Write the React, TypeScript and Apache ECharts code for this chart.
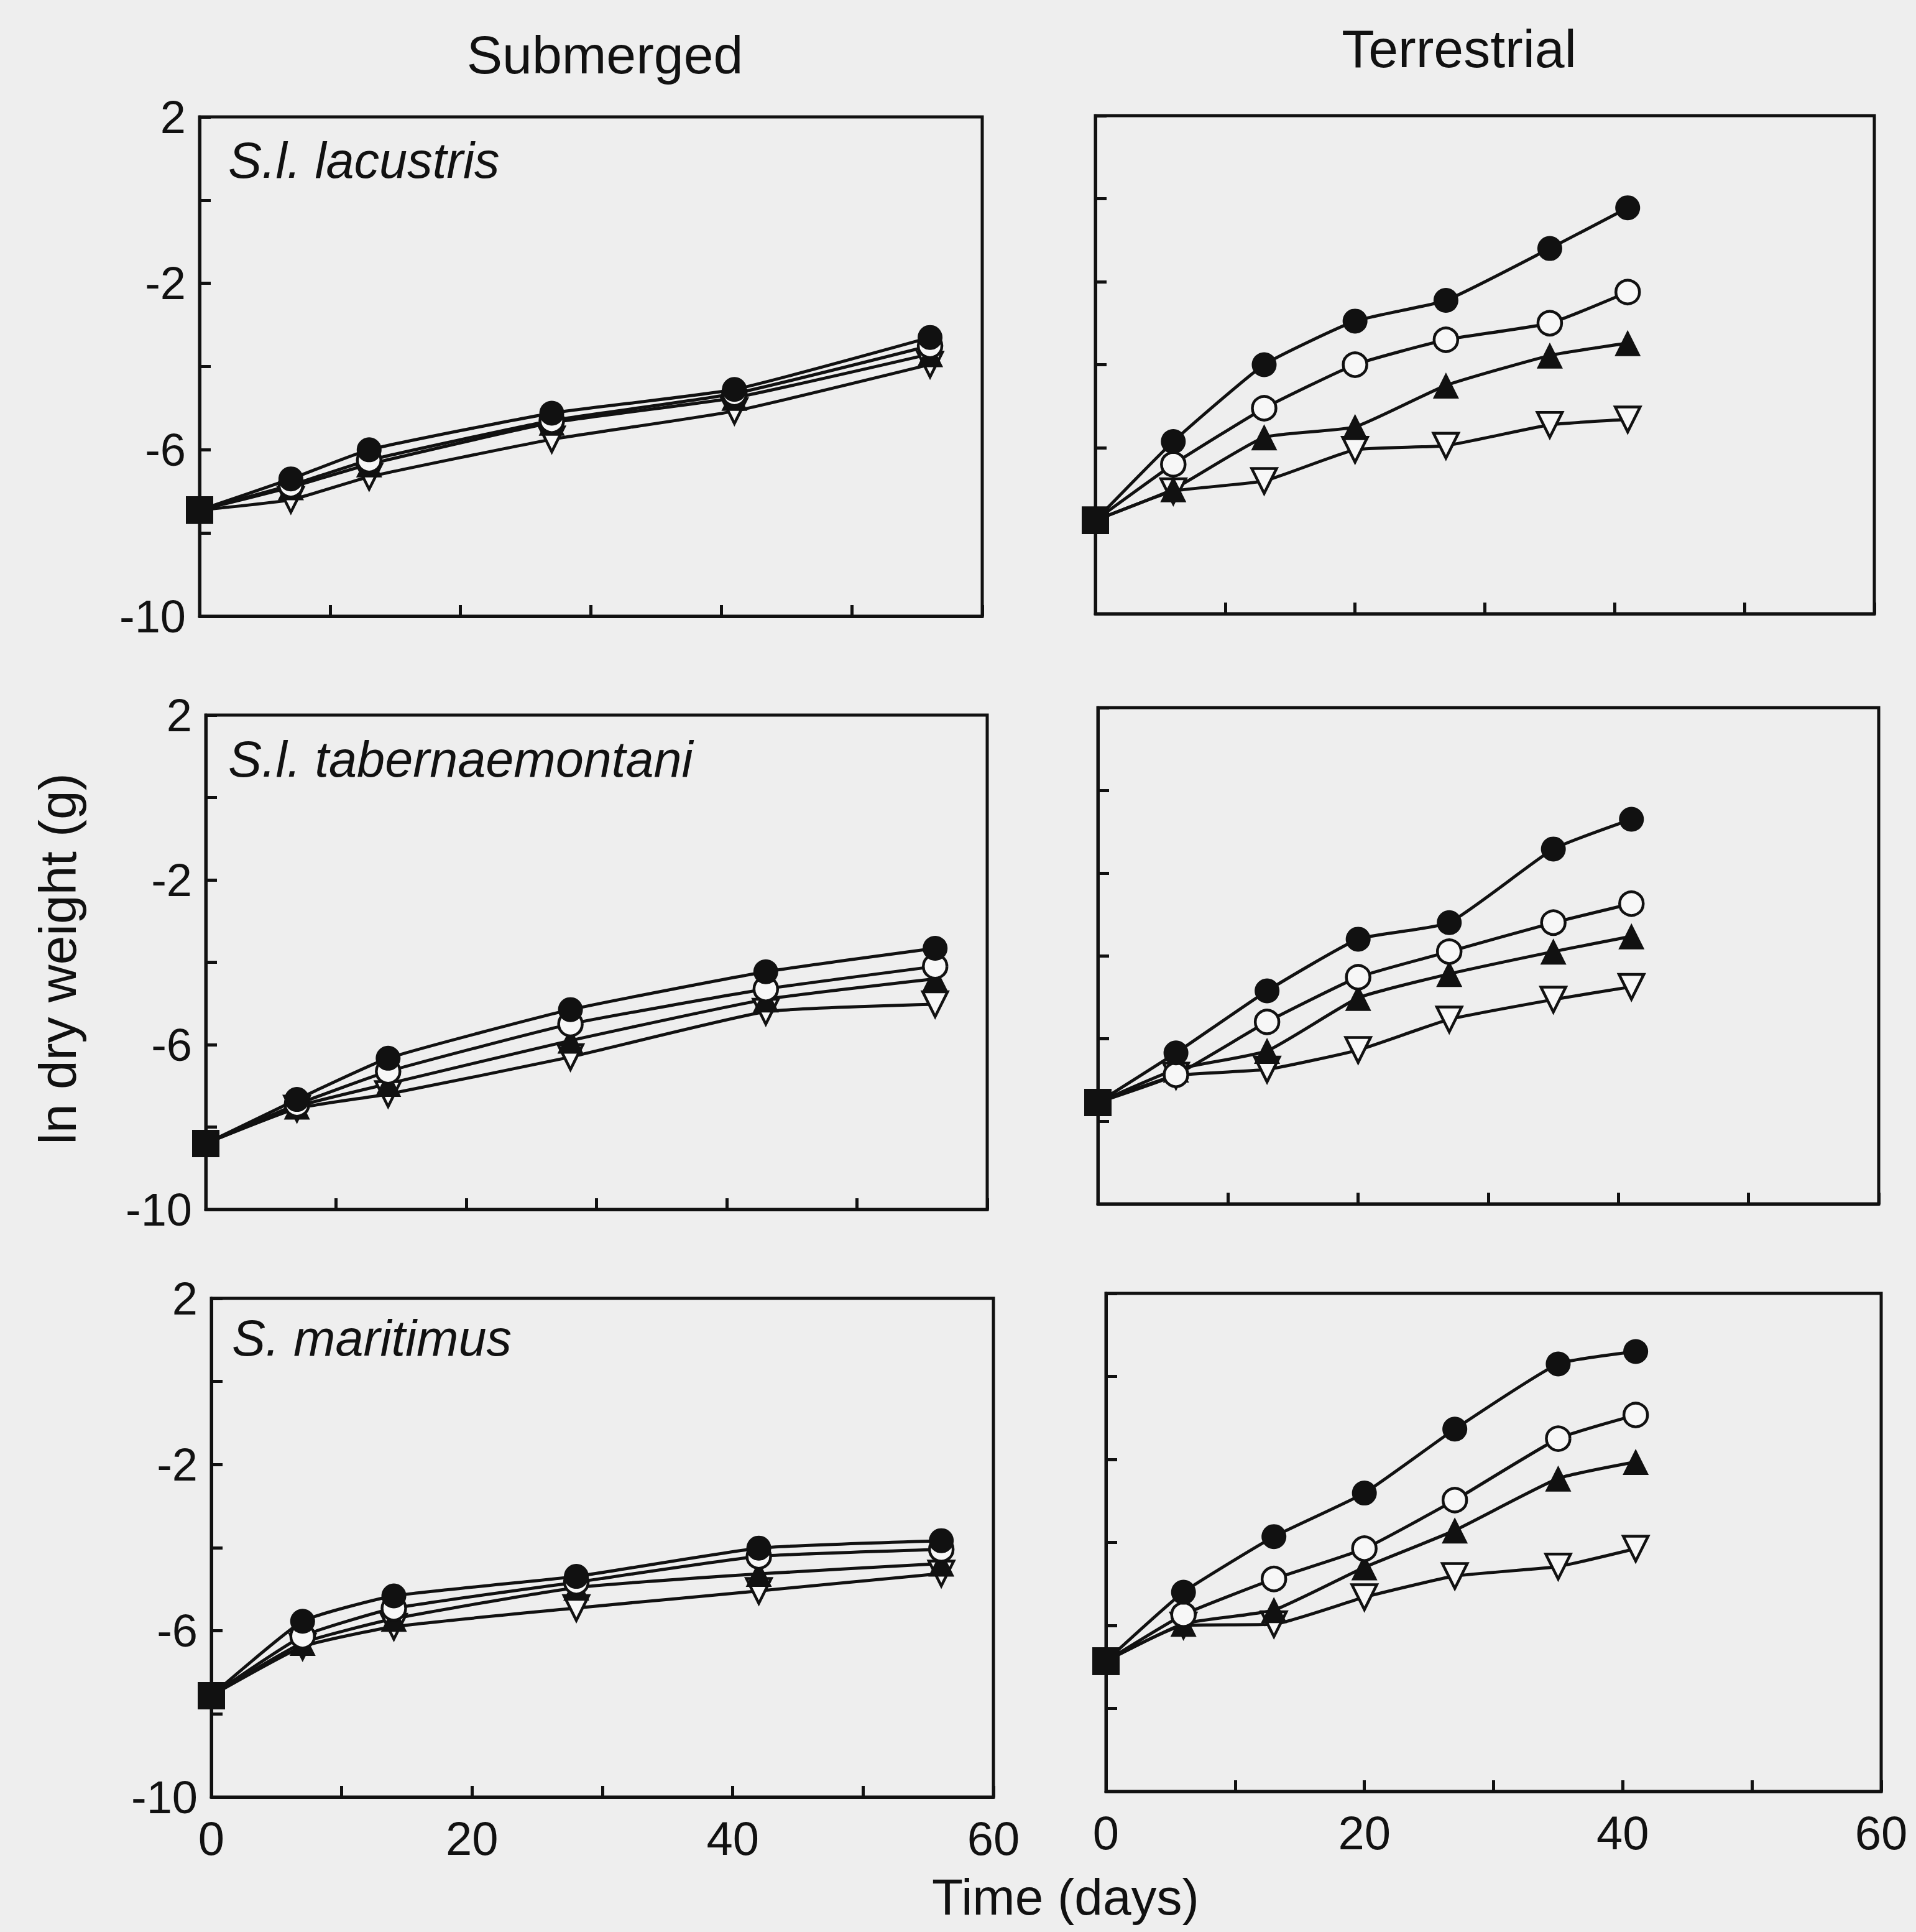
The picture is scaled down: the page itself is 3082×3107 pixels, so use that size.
import React, { useEffect, useRef } from "react";
import * as echarts from "echarts";

const W = 3082;
const H = 3107;
const FONT = "'Liberation Sans', Arial, Helvetica, sans-serif";
const INK = "#111111";
const PAPER = "#eeeeee";
const HOLLOW = "#f7f7f7";

// ---- data (ln dry weight, g) ----
// S.l. lacustris, submerged
const lacSubDays = [0, 7, 13, 27, 41, 56];
const lacSubFilledCircle = [-7.45, -6.7, -6.0, -5.12, -4.55, -3.3];
const lacSubOpenCircle = [-7.45, -6.85, -6.25, -5.3, -4.65, -3.5];
const lacSubFilledTri = [-7.45, -6.9, -6.35, -5.35, -4.75, -3.7];
const lacSubOpenTri = [-7.45, -7.2, -6.65, -5.75, -5.07, -3.95];

// S.l. lacustris, terrestrial
const lacTerDays = [0, 6, 13, 20, 27, 35, 41];
const lacTerFilledCircle = [-7.75, -5.85, -4.0, -2.95, -2.45, -1.2, -0.22];
const lacTerOpenCircle = [-7.75, -6.4, -5.05, -4.0, -3.4, -3.0, -2.25];
const lacTerFilledTri = [-7.75, -7.0, -5.75, -5.5, -4.5, -3.78, -3.48];
const lacTerOpenTri = [-7.75, -7.05, -6.8, -6.05, -5.95, -5.45, -5.32];

// S.l. tabernaemontani, submerged
const tabSubDays = [0, 7, 14, 28, 43, 56];
const tabSubFilledCircle = [-8.4, -7.33, -6.33, -5.15, -4.23, -3.66];
const tabSubOpenCircle = [-8.4, -7.45, -6.65, -5.5, -4.65, -4.1];
const tabSubFilledTri = [-8.4, -7.5, -6.95, -5.9, -4.9, -4.4];
const tabSubOpenTri = [-8.4, -7.55, -7.2, -6.3, -5.2, -5.02];

// S.l. tabernaemontani, terrestrial
const tabTerDays = [0, 6, 13, 20, 27, 35, 41];
const tabTerFilledCircle = [-7.55, -6.35, -4.85, -3.6, -3.2, -1.42, -0.7];
const tabTerOpenCircle = [-7.55, -6.88, -5.6, -4.52, -3.9, -3.2, -2.74];
const tabTerFilledTri = [-7.55, -6.75, -6.3, -5.02, -4.44, -3.9, -3.53];
const tabTerOpenTri = [-7.55, -6.9, -6.75, -6.28, -5.54, -5.06, -4.75];

// S. maritimus, submerged
const marSubDays = [0, 7, 14, 28, 42, 56];
const marSubFilledCircle = [-7.56, -5.77, -5.16, -4.69, -4.01, -3.83];
const marSubOpenCircle = [-7.56, -6.13, -5.46, -4.83, -4.21, -4.04];
const marSubFilledTri = [-7.56, -6.29, -5.71, -4.96, -4.63, -4.38];
const marSubOpenTri = [-7.56, -6.38, -5.9, -5.45, -5.04, -4.62];

// S. maritimus, terrestrial
const marTerDays = [0, 6, 13, 20, 27, 35, 41];
const marTerFilledCircle = [-6.86, -5.2, -3.86, -2.81, -1.27, 0.3, 0.6];
const marTerOpenCircle = [-6.86, -5.74, -4.88, -4.15, -2.98, -1.5, -0.93];
const marTerFilledTri = [-6.86, -5.96, -5.63, -4.6, -3.71, -2.46, -2.06];
const marTerOpenTri = [-6.86, -6.0, -5.97, -5.32, -4.81, -4.58, -4.15];

const xTickLabels = [0, 20, 40, 60];
const yTickLabels = [2, -2, -6, -10];

const columnTitles = ["Submerged", "Terrestrial"];
const panelLabels = ["S.l. lacustris", "S.l. tabernaemontani", "S. maritimus"];
const xAxisTitle = "Time (days)";
const yAxisTitle = "ln dry weight (g)";

type Panel = {
  days: number[];
  fc: number[];
  oc: number[];
  ft: number[];
  ot: number[];
};

const panels: Panel[] = [
  { days: lacSubDays, fc: lacSubFilledCircle, oc: lacSubOpenCircle, ft: lacSubFilledTri, ot: lacSubOpenTri },
  { days: lacTerDays, fc: lacTerFilledCircle, oc: lacTerOpenCircle, ft: lacTerFilledTri, ot: lacTerOpenTri },
  { days: tabSubDays, fc: tabSubFilledCircle, oc: tabSubOpenCircle, ft: tabSubFilledTri, ot: tabSubOpenTri },
  { days: tabTerDays, fc: tabTerFilledCircle, oc: tabTerOpenCircle, ft: tabTerFilledTri, ot: tabTerOpenTri },
  { days: marSubDays, fc: marSubFilledCircle, oc: marSubOpenCircle, ft: marSubFilledTri, ot: marSubOpenTri },
  { days: marTerDays, fc: marTerFilledCircle, oc: marTerOpenCircle, ft: marTerFilledTri, ot: marTerOpenTri },
];

// plot boxes (pixels)
const gridBoxes = [
  { left: 321, top: 188, width: 1259, height: 803 },
  { left: 1762, top: 186, width: 1253, height: 801 },
  { left: 331, top: 1150, width: 1257, height: 795 },
  { left: 1766, top: 1138, width: 1256, height: 798 },
  { left: 340, top: 2088, width: 1258, height: 802 },
  { left: 1779, top: 2080, width: 1247, height: 801 },
];

function buildSeries(p: Panel, idx: number) {
  const startItem = (y: number) => ({
    value: [0, y],
    symbol: "rect",
    symbolSize: 44,
    symbolRotate: 0,
    itemStyle: { color: INK, borderColor: INK, borderWidth: 0 },
  });
  const mk = (vals: number[], symbol: string, size: number, fill: string, rotate: number, name: string) => ({
    name,
    type: "line",
    xAxisIndex: idx,
    yAxisIndex: idx,
    smooth: 0.15,
    symbol,
    symbolSize: size,
    symbolRotate: rotate,
    showAllSymbol: true,
    lineStyle: { color: INK, width: 5 },
    itemStyle: { color: fill, borderColor: INK, borderWidth: fill === INK ? 0 : 4.5 },
    emphasis: { disabled: true },
    data: vals.map((v, i) => (i === 0 ? startItem(v) : [p.days[i], v])),
  });
  return [
    mk(p.ot, "triangle", 40, HOLLOW, 180, "open triangle"),
    mk(p.ft, "triangle", 42, INK, 0, "filled triangle"),
    mk(p.oc, "circle", 38, HOLLOW, 0, "open circle"),
    mk(p.fc, "circle", 40, INK, 0, "filled circle"),
  ];
}

export default function App() {
  const ref = useRef<HTMLDivElement>(null);

  useEffect(() => {
    document.body.style.margin = "0";
    if (!ref.current) return;
    const chart = echarts.init(ref.current, undefined, { renderer: "svg", width: W, height: H });

    const axisLine = { show: true, onZero: false, lineStyle: { color: INK, width: 5 } };
    const axisTick = { show: true, inside: true, length: 18, lineStyle: { color: INK, width: 5 } };

    const grid = gridBoxes.map((g) => ({
      ...g,
      show: true,
      borderColor: INK,
      borderWidth: 5,
      backgroundColor: PAPER,
      containLabel: false,
    }));

    const xAxis = gridBoxes.map((_, i) => ({
      type: "value",
      gridIndex: i,
      min: 0,
      max: 60,
      interval: 10,
      axisLine,
      axisTick,
      splitLine: { show: false },
      axisLabel: {
        show: i >= 4,
        margin: 28,
        fontSize: 76,
        fontFamily: FONT,
        color: INK,
        formatter: (v: number) => (xTickLabels.includes(Math.round(v)) ? String(Math.round(v)) : ""),
      },
    }));

    const yAxis = gridBoxes.map((_, i) => ({
      type: "value",
      gridIndex: i,
      min: -10,
      max: 2,
      interval: 2,
      axisLine,
      axisTick,
      splitLine: { show: false },
      axisLabel: {
        show: i % 2 === 0,
        margin: 22,
        fontSize: 74,
        fontFamily: FONT,
        color: INK,
        padding: [22, 0, 0, 0],
        formatter: (v: number) => (yTickLabels.includes(Math.round(v)) ? String(Math.round(v)) : ""),
      },
    }));

    const series = panels.flatMap((p, i) => buildSeries(p, i));

    const labelPos = [
      { x: 367, y: 258 },
      { x: 367, y: 1221 },
      { x: 373, y: 2152 },
    ];

    const graphic: any[] = [
      {
        type: "text",
        x: 973,
        y: 88,
        style: { text: columnTitles[0], font: `86px ${FONT}`, fill: INK, textAlign: "center", textVerticalAlign: "middle" },
      },
      {
        type: "text",
        x: 2347,
        y: 78,
        style: { text: columnTitles[1], font: `86px ${FONT}`, fill: INK, textAlign: "center", textVerticalAlign: "middle" },
      },
      ...panelLabels.map((t, r) => ({
        type: "text",
        x: labelPos[r].x,
        y: labelPos[r].y,
        z: 100,
        style: { text: t, font: `italic 81px ${FONT}`, fill: INK, textAlign: "left", textVerticalAlign: "middle" },
      })),
      {
        type: "text",
        x: 1714,
        y: 3050,
        style: { text: xAxisTitle, font: `82px ${FONT}`, fill: INK, textAlign: "center", textVerticalAlign: "middle" },
      },
      {
        type: "text",
        x: 93,
        y: 1542,
        rotation: Math.PI / 2,
        style: { text: yAxisTitle, font: `84px ${FONT}`, fill: INK, textAlign: "center", textVerticalAlign: "middle" },
      },
    ];

    chart.setOption({
      animation: false,
      backgroundColor: PAPER,
      grid,
      xAxis,
      yAxis,
      series,
      graphic,
    } as any);

    return () => chart.dispose();
  }, []);

  return <div ref={ref} style={{ width: W, height: H, background: PAPER }} />;
}
